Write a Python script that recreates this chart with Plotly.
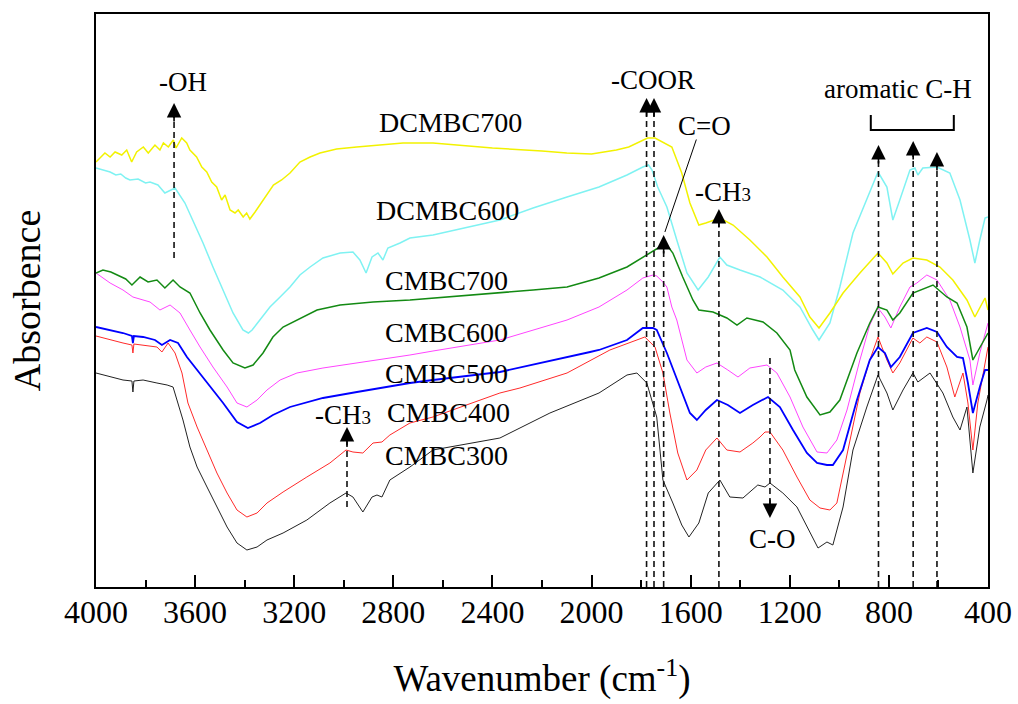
import plotly.graph_objects as go

# ---------------- data (wavenumber cm-1, absorbance a.u.) ----------------
dc700_w = [4000, 3964, 3943, 3923, 3896, 3876, 3856, 3836, 3809, 3789, 3762, 3742, 3728, 3708,
           3688, 3677, 3654, 3634, 3621, 3594, 3573, 3553, 3533, 3513, 3493, 3479, 3459, 3439,
           3426, 3406, 3392, 3379, 3358, 3338, 3311, 3284, 3251, 3217, 3177, 3136, 3096, 3029,
           2948, 2854, 2761, 2640, 2400, 2200, 2100, 2000, 1900, 1850, 1800, 1774, 1744, 1712,
           1676, 1636, 1603, 1567, 1539, 1482, 1429, 1361, 1292, 1228, 1159, 1119, 1082, 1038,
           985, 917, 844, 808, 784, 743, 703, 647, 594, 542, 485, 453, 424, 412, 400]
dc700_a = [4.25, 4.34, 4.30, 4.35, 4.32, 4.37, 4.25, 4.35, 4.40, 4.34, 4.42, 4.37, 4.44, 4.40,
           4.47, 4.39, 4.49, 4.44, 4.37, 4.30, 4.20, 4.15, 4.05, 4.00, 3.87, 3.92, 3.77, 3.74,
           3.77, 3.70, 3.74, 3.68, 3.75, 3.82, 3.92, 4.02, 4.07, 4.14, 4.25, 4.30, 4.34, 4.38,
           4.40, 4.42, 4.44, 4.44, 4.39, 4.36, 4.34, 4.33, 4.37, 4.40, 4.46, 4.49, 4.49, 4.45,
           4.40, 4.14, 3.84, 3.62, 3.64, 3.69, 3.62, 3.47, 3.30, 3.10, 2.90, 2.70, 2.59, 2.74,
           2.94, 3.14, 3.34, 3.24, 3.13, 3.24, 3.29, 3.27, 3.20, 3.07, 2.87, 2.70, 2.84, 2.89, 2.77]

dc600_w = [4000, 3943, 3920, 3900, 3880, 3863, 3830, 3800, 3782, 3750, 3722, 3700, 3681, 3641,
           3609, 3568, 3528, 3487, 3447, 3407, 3385, 3370, 3338, 3298, 3257, 3217, 3177, 3136,
           3084, 3015, 2963, 2935, 2910, 2886, 2862, 2842, 2822, 2773, 2733, 2640, 2370, 2236,
           2099, 1970, 1857, 1793, 1770, 1756, 1733, 1696, 1656, 1615, 1570, 1529, 1482, 1454,
           1401, 1320, 1228, 1159, 1107, 1082, 1038, 998, 945, 889, 844, 808, 784, 756, 715,
           695, 683, 663, 606, 554, 513, 473, 453, 433, 412, 400]
dc600_a = [4.19, 4.15, 4.12, 4.13, 4.09, 4.07, 4.08, 4.04, 4.05, 4.02, 3.94, 3.97, 3.99, 3.84,
           3.67, 3.44, 3.20, 2.97, 2.74, 2.57, 2.54, 2.57, 2.67, 2.80, 2.90, 3.00, 3.12, 3.20,
           3.29, 3.34, 3.35, 3.27, 3.14, 3.30, 3.34, 3.27, 3.39, 3.44, 3.49, 3.52, 3.67, 3.79,
           3.90, 4.00, 4.12, 4.20, 4.22, 4.17, 4.00, 3.80, 3.47, 3.14, 2.97, 3.10, 3.30, 3.22,
           3.17, 3.10, 2.97, 2.80, 2.57, 2.47, 2.64, 3.00, 3.54, 3.87, 4.15, 4.00, 3.67, 3.87,
           4.17, 4.19, 4.12, 4.19, 4.20, 4.14, 3.87, 3.47, 3.24, 3.47, 3.69, 3.70]

c700_w = [4000, 3972, 3940, 3915, 3880, 3855, 3822, 3790, 3754, 3722, 3689, 3661, 3621, 3580,
          3540, 3487, 3447, 3399, 3366, 3326, 3286, 3245, 3189, 3108, 3015, 2882, 2733, 2370,
          2236, 2099, 1970, 1857, 1777, 1725, 1696, 1672, 1632, 1591, 1567, 1510, 1454, 1413,
          1373, 1308, 1252, 1199, 1180, 1131, 1078, 1038, 998, 929, 877, 844, 808, 784, 756,
          703, 622, 566, 525, 485, 461, 424, 400]
c700_a = [3.14, 3.17, 3.15, 3.12, 3.08, 3.02, 3.10, 3.05, 3.07, 2.99, 3.07, 3.00, 2.94, 2.74,
          2.57, 2.37, 2.24, 2.19, 2.22, 2.34, 2.50, 2.60, 2.67, 2.77, 2.82, 2.85, 2.87, 2.94,
          2.97, 3.00, 3.09, 3.20, 3.32, 3.40, 3.42, 3.34, 3.10, 2.87, 2.77, 2.75, 2.69, 2.62,
          2.69, 2.65, 2.54, 2.37, 2.17, 1.90, 1.72, 1.75, 1.87, 2.34, 2.64, 2.80, 2.77, 2.67,
          2.74, 2.94, 3.02, 2.90, 2.84, 2.60, 2.27, 2.44, 2.54]

c600_w = [4000, 3943, 3891, 3851, 3782, 3742, 3701, 3661, 3621, 3580, 3528, 3471, 3431, 3391,
          3350, 3310, 3257, 3189, 3084, 2947, 2733, 2640, 2370, 2099, 1970, 1857, 1793, 1752,
          1737, 1712, 1696, 1676, 1656, 1615, 1575, 1539, 1494, 1450, 1409, 1361, 1292, 1252,
          1199, 1147, 1090, 1050, 1010, 969, 917, 877, 844, 816, 792, 756, 715, 687, 647, 606,
          554, 513, 473, 461, 433, 400]
c600_a = [3.14, 3.04, 2.97, 2.90, 2.85, 2.77, 2.82, 2.74, 2.57, 2.40, 2.20, 2.00, 1.84, 1.80,
          1.87, 1.97, 2.07, 2.14, 2.19, 2.24, 2.32, 2.36, 2.47, 2.67, 2.80, 2.97, 3.09, 3.12,
          3.11, 3.05, 3.00, 2.80, 2.67, 2.27, 2.14, 2.20, 2.24, 2.17, 2.10, 2.19, 2.22, 2.14,
          1.90, 1.60, 1.35, 1.34, 1.47, 1.77, 2.27, 2.62, 2.79, 2.70, 2.59, 2.80, 3.00, 3.04,
          3.12, 3.07, 2.87, 2.60, 2.27, 2.02, 2.34, 2.64]

c500_w = [4000, 3943, 3891, 3855, 3851, 3847, 3810, 3762, 3734, 3701, 3669, 3633, 3592, 3540,
          3487, 3431, 3387, 3338, 3286, 3217, 3084, 2947, 2733, 2640, 2370, 2006, 1970, 1857,
          1793, 1752, 1737, 1696, 1644, 1603, 1575, 1539, 1494, 1450, 1401, 1349, 1288, 1240,
          1187, 1131, 1090, 1050, 1026, 998, 985, 929, 877, 844, 816, 792, 756, 703, 647, 606,
          566, 525, 501, 481, 461, 433, 412, 400]
c500_a = [2.60, 2.57, 2.54, 2.51, 2.44, 2.51, 2.50, 2.47, 2.42, 2.47, 2.44, 2.30, 2.17, 2.00,
          1.84, 1.65, 1.59, 1.64, 1.72, 1.80, 1.89, 1.95, 2.04, 2.07, 2.15, 2.35, 2.37, 2.47,
          2.59, 2.59, 2.57, 2.34, 2.00, 1.74, 1.67, 1.77, 1.87, 1.82, 1.74, 1.82, 1.90, 1.80,
          1.57, 1.34, 1.24, 1.22, 1.22, 1.32, 1.37, 1.87, 2.27, 2.40, 2.34, 2.20, 2.30, 2.54,
          2.59, 2.55, 2.40, 2.30, 2.29, 2.04, 1.74, 2.00, 2.17, 2.17]

c400_w = [4000, 3943, 3891, 3855, 3851, 3847, 3810, 3754, 3734, 3709, 3681, 3653, 3629, 3592,
          3552, 3512, 3471, 3431, 3391, 3350, 3310, 3245, 3149, 3056, 2991, 2963, 2923, 2882,
          2846, 2814, 2733, 2640, 2370, 2289, 2099, 1926, 1785, 1744, 1712, 1684, 1652, 1615,
          1575, 1539, 1494, 1454, 1401, 1349, 1320, 1300, 1280, 1228, 1171, 1119, 1078, 1038,
          1010, 969, 917, 877, 844, 808, 784, 756, 703, 675, 647, 606, 566, 534, 501, 481, 461,
          441, 420, 400]
c400_a = [2.51, 2.47, 2.44, 2.42, 2.34, 2.43, 2.42, 2.40, 2.35, 2.44, 2.34, 2.14, 1.84, 1.60,
          1.37, 1.14, 0.94, 0.77, 0.70, 0.74, 0.84, 0.95, 1.10, 1.24, 1.37, 1.35, 1.34, 1.44,
          1.45, 1.52, 1.64, 1.70, 1.94, 1.99, 2.14, 2.37, 2.50, 2.40, 2.14, 1.74, 1.34, 1.07,
          1.17, 1.37, 1.49, 1.37, 1.35, 1.44, 1.50, 1.55, 1.55, 1.37, 1.10, 0.87, 0.79, 0.77,
          0.84, 1.34, 1.94, 2.27, 2.50, 2.27, 2.14, 2.24, 2.49, 2.44, 2.50, 2.45, 2.20, 1.90,
          2.14, 1.84, 1.37, 1.84, 2.14, 2.40]

c300_w = [4000, 3943, 3891, 3855, 3851, 3847, 3810, 3754, 3713, 3689, 3669, 3649, 3621, 3592,
          3552, 3512, 3471, 3431, 3391, 3350, 3310, 3245, 3149, 3056, 2991, 2963, 2923, 2886,
          2866, 2846, 2814, 2733, 2640, 2370, 2168, 1970, 1857, 1817, 1777, 1737, 1712, 1672,
          1636, 1607, 1567, 1529, 1482, 1442, 1389, 1329, 1300, 1280, 1228, 1171, 1119, 1086,
          1050, 1026, 985, 945, 889, 844, 808, 784, 743, 703, 683, 634, 582, 542, 513, 485,
          461, 433, 404, 400]
c300_a = [2.14, 2.10, 2.07, 2.06, 1.95, 2.06, 2.07, 2.04, 2.02, 2.00, 1.84, 1.67, 1.40, 1.20,
          1.00, 0.80, 0.60, 0.44, 0.37, 0.40, 0.47, 0.54, 0.67, 0.84, 0.94, 0.90, 0.75, 0.90,
          0.92, 0.90, 1.07, 1.20, 1.37, 1.49, 1.74, 1.94, 2.12, 2.14, 2.04, 1.70, 1.07, 0.84,
          0.62, 0.50, 0.64, 0.94, 1.07, 0.90, 0.89, 1.02, 1.00, 1.04, 0.94, 0.80, 0.54, 0.39,
          0.45, 0.42, 0.80, 1.37, 1.80, 2.12, 1.94, 1.77, 1.97, 2.14, 2.05, 2.14, 1.94, 1.70,
          1.57, 1.80, 1.14, 1.60, 1.87, 1.92]

series = [
    ("CMBC300", c300_w, c300_a, "#222222", 1.0),
    ("CMBC400", c400_w, c400_a, "#ff2a2a", 1.0),
    ("CMBC500", c500_w, c500_a, "#0000ff", 1.8),
    ("CMBC600", c600_w, c600_a, "#ff44ff", 1.0),
    ("CMBC700", c700_w, c700_a, "#138a13", 1.5),
    ("DCMBC600", dc600_w, dc600_a, "#7ff2f2", 1.5),
    ("DCMBC700", dc700_w, dc700_a, "#f2f200", 1.5),
]

# series labels: (text, wavenumber, absorbance)
label_txt = ["DCMBC700", "DCMBC600", "CMBC700", "CMBC600", "CMBC500", "CMBC400", "CMBC300"]
label_w = [2569, 2583, 2584, 2584, 2584, 2576, 2584]
label_a = [4.65, 3.77, 3.07, 2.55, 2.14, 1.75, 1.32]

# upward dashed marker lines: wavenumber, base, tip
up_w = [3685, 1778, 1748, 1709, 1486, 842, 702, 606, 2987]
up_base = [3.29, 0.0, 0.0, 0.0, 0.0, 0.0, 0.0, 0.0, 0.80]
up_tip = [4.84, 4.89, 4.89, 3.52, 3.78, 4.42, 4.46, 4.35, 1.60]
# downward dashed marker (C-O)
down_w = [1280]
down_top = [2.29]
down_tip = [0.69]

# group labels: text, wavenumber, absorbance
grp_txt = ["-OH", "-COOR", "C=O", "-CH<span style='font-size:19px'>3</span>",
           "-CH<span style='font-size:19px'>3</span>", "C-O", "aromatic C-H"]
grp_w = [3650, 1752, 1543, 1470, 3003, 1268, 764]
grp_a = [5.05, 5.07, 4.61, 3.95, 1.72, 0.48, 4.98]

# bracket for aromatic C-H
br_w = [873, 873, 538, 538]
br_a = [4.72, 4.57, 4.57, 4.72]

xticks = [4000, 3600, 3200, 2800, 2400, 2000, 1600, 1200, 800, 400]

FONT = "Liberation Serif, Times New Roman, serif"

fig = go.Figure()
for name, w, a, col, lw in series:
    fig.add_trace(go.Scatter(x=w, y=a, mode="lines", name=name,
                             line=dict(color=col, width=lw), showlegend=False))

# dashed lines with arrowheads
for w, b, t in zip(up_w, up_base, up_tip):
    fig.add_trace(go.Scatter(x=[w, w], y=[b, t - 0.1], mode="lines",
                             line=dict(color="#111111", width=1.6, dash="6px,4px"),
                             showlegend=False, hoverinfo="skip"))
    fig.add_annotation(x=w, y=t, ax=w, ay=t - 0.2, axref="x", ayref="y",
                       xref="x", yref="y", text="", showarrow=True,
                       arrowhead=2, arrowsize=1.8, arrowwidth=1.6, arrowcolor="#000000")
for w, b, t in zip(down_w, down_top, down_tip):
    fig.add_trace(go.Scatter(x=[w, w], y=[b, t + 0.1], mode="lines",
                             line=dict(color="#111111", width=1.6, dash="6px,4px"),
                             showlegend=False, hoverinfo="skip"))
    fig.add_annotation(x=w, y=t, ax=w, ay=t + 0.2, axref="x", ayref="y",
                       xref="x", yref="y", text="", showarrow=True,
                       arrowhead=2, arrowsize=1.8, arrowwidth=1.6, arrowcolor="#000000")

# C=O leader line
fig.add_annotation(x=1704, y=3.55, ax=1575, ay=4.49, axref="x", ayref="y",
                   xref="x", yref="y", text="", showarrow=True,
                   arrowhead=0, arrowwidth=1.0, arrowcolor="#000000")

# bracket
fig.add_trace(go.Scatter(x=br_w, y=br_a, mode="lines",
                         line=dict(color="#000000", width=2), showlegend=False,
                         hoverinfo="skip"))

for t, w, a in zip(label_txt, label_w, label_a):
    fig.add_annotation(x=w, y=a, text=t, showarrow=False, xref="x", yref="y",
                       font=dict(family=FONT, size=28, color="#000000"))
for t, w, a in zip(grp_txt, grp_w, grp_a):
    fig.add_annotation(x=w, y=a, text=t, showarrow=False, xref="x", yref="y",
                       font=dict(family=FONT, size=27, color="#000000"))

fig.update_layout(
    width=1018, height=704,
    margin=dict(l=96, r=30, t=14, b=117),
    paper_bgcolor="white", plot_bgcolor="white",
    font=dict(family=FONT, color="#000000"),
    showlegend=False,
)
fig.update_xaxes(
    range=[4000, 400], tickvals=xticks, ticktext=[str(v) for v in xticks],
    ticks="inside", ticklen=12, tickwidth=2, tickcolor="#000000",
    minor=dict(ticks="inside", ticklen=7, tickwidth=2, tickcolor="#000000",
               tickvals=list(range(400, 4001, 200))),
    showline=True, linewidth=2, linecolor="#000000", mirror=True,
    showgrid=False, zeroline=False, automargin=False,
    tickfont=dict(family=FONT, size=32, color="#000000"),
    ticklabelstandoff=-4,
    title=dict(text="Wavenumber (cm<sup>-1</sup>)",
               font=dict(family=FONT, size=37, color="#000000"), standoff=36),
)
fig.update_yaxes(
    range=[0, 5.73], showticklabels=False, ticks="",
    showline=True, linewidth=2, linecolor="#000000", mirror=True,
    showgrid=False, zeroline=False, automargin=False,
    title=dict(text="Absorbence", font=dict(family=FONT, size=38, color="#000000"),
               standoff=42),
)

# remove the default 8px page margin so the figure fills the window exactly
fig.write_html("out.html",
               config={"displayModeBar": False},
               post_script="document.body.style.margin='0px';"
                           "document.body.style.overflow='hidden';")
